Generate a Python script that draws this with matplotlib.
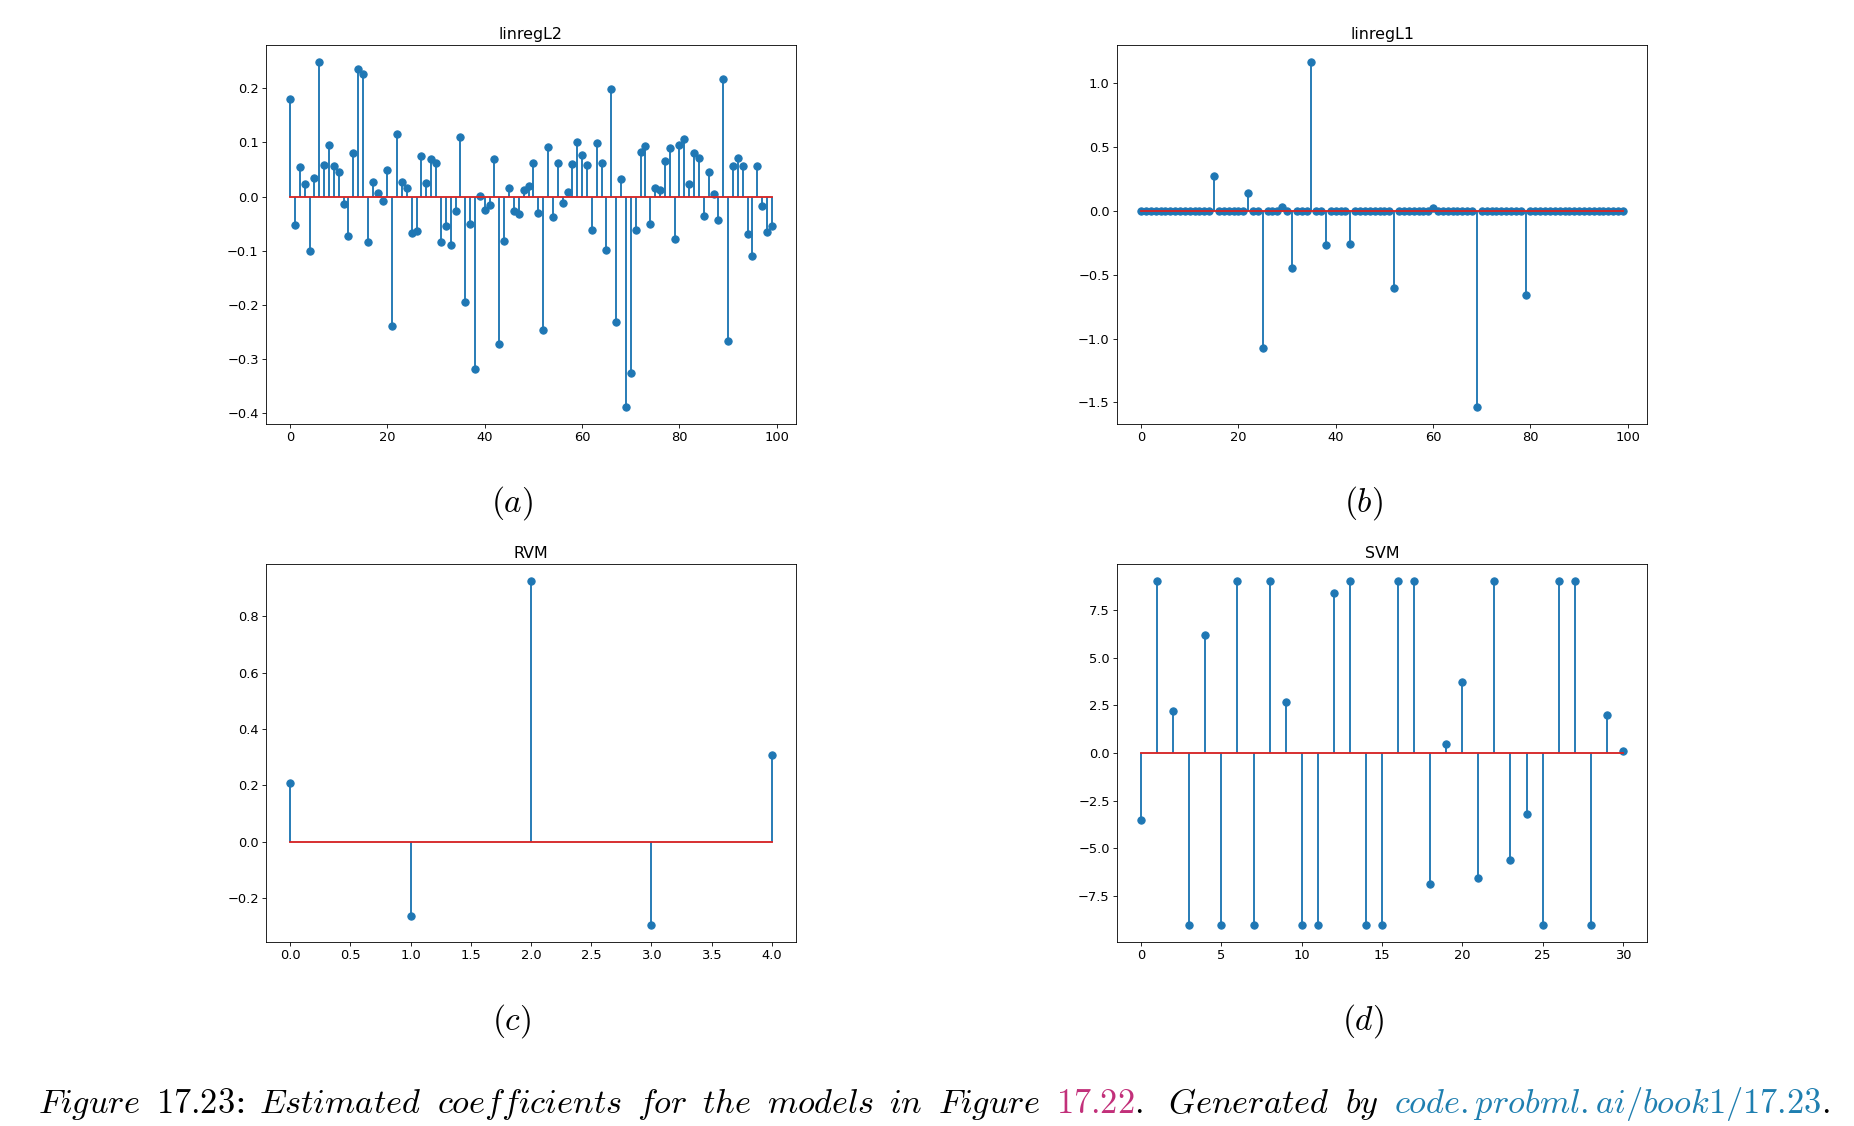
import numpy as np
import matplotlib
matplotlib.use("Agg")
import matplotlib.pyplot as plt
from matplotlib.offsetbox import TextArea, HPacker, AnchoredOffsetbox

plt.rcParams["mathtext.fontset"] = "cm"
plt.rcParams["xtick.labelsize"] = 12.5
plt.rcParams["ytick.labelsize"] = 12.5
plt.rcParams["axes.titlesize"] = 15.3
plt.rcParams["lines.markersize"] = 7
plt.rcParams["lines.linewidth"] = 1.8

# coefficients
linregL2 = np.array([
    0.180, -0.052, 0.054, 0.023, -0.101, 0.035, 0.248, 0.058, 0.095, 0.056,
    0.046, -0.013, -0.072, 0.080, 0.236, 0.227, -0.084, 0.027, 0.006, -0.009,
    0.049, -0.238, 0.115, 0.027, 0.015, -0.068, -0.064, 0.074, 0.025, 0.069,
    0.062, -0.083, -0.055, -0.090, -0.027, 0.110, -0.194, -0.051, -0.318, 0.001,
    -0.025, -0.016, 0.070, -0.272, -0.082, 0.015, -0.027, -0.032, 0.013, 0.020,
    0.062, -0.031, -0.246, 0.091, -0.038, 0.062, -0.011, 0.008, 0.060, 0.101,
    0.077, 0.059, -0.061, 0.098, 0.062, -0.098, 0.198, -0.231, 0.032, -0.388,
    -0.325, -0.062, 0.083, 0.093, -0.051, 0.016, 0.013, 0.066, 0.089, -0.078,
    0.095, 0.106, 0.023, 0.081, 0.072, -0.036, 0.046, 0.004, -0.043, 0.217,
    -0.267, 0.056, 0.071, 0.056, -0.069, -0.109, 0.056, -0.017, -0.065, -0.055,
])

# lasso: mostly zeros, only a few non-zero entries
linregL1 = np.zeros(100)
l1_idx = [15, 22, 25, 29, 31, 35, 38, 43, 52, 60, 69, 79]
l1_val = [0.275, 0.141, -1.073, 0.026, -0.445, 1.162, -0.270, -0.262,
          -0.605, 0.018, -1.534, -0.662]
linregL1[l1_idx] = l1_val

rvm = np.array([0.207, -0.264, 0.925, -0.296, 0.309])

svm = np.array([
    -3.50, 9.0, 2.20, -9.0, 6.17, -9.0, 9.0, -9.0, 9.0, 2.65,
    -9.0, -9.0, 8.40, 9.0, -9.0, -9.0, 9.0, 9.0, -6.85, 0.47,
    3.71, -6.53, 9.0, -5.61, -3.19, -9.0, 9.0, 9.0, -9.0, 2.00,
    0.12,
])

titles = ["linregL2", "linregL1", "RVM", "SVM"]
series = [linregL2, linregL1, rvm, svm]
sublabels = ["a", "b", "c", "d"]

W, H = 1854, 1126
fig = plt.figure(figsize=(W / 75, H / 75), dpi=75)

# axes boxes in pixels: left, top, right, bottom
boxes = [(266, 45, 796, 424), (1117, 45, 1647, 424),
         (266, 564, 796, 942), (1117, 564, 1647, 942)]
label_pos = [(512, 512), (1363, 512), (512, 1030), (1363, 1030)]

for box, y, title, lab, (lx, ly) in zip(boxes, series, titles, sublabels, label_pos):
    l, t, r, b = box
    ax = fig.add_axes([l / W, 1 - b / H, (r - l) / W, (b - t) / H])
    ax.stem(np.arange(len(y)), y)
    ax.set_title(title)
    fig.text(lx / W, 1 - ly / H, r"$(\mathit{%s})$" % lab, fontsize=32,
             ha="center", va="baseline")

# caption, pieced together so the references can have their own colours
fs = 33
magenta = "#c2307a"
teal = "#1f7fb0"
words = [
    (r"$\mathit{Figure}$", "black"), (r"$\mathit{17.23}$:", "black"),
    (r"$\mathit{Estimated}$", "black"), (r"$\mathit{coefficients}$", "black"),
    (r"$\mathit{for}$", "black"), (r"$\mathit{the}$", "black"),
    (r"$\mathit{models}$", "black"), (r"$\mathit{in}$", "black"),
    (r"$\mathit{Figure}$", "black"), (r"$\mathit{17.22}$", magenta),
    (r"$.$", "black"), (r"$\mathit{Generated}$", "black"),
    (r"$\mathit{by}$", "black"),
    (r"$\mathit{code.probml.ai/book1/17.23}$", teal), (r"$.$", "black"),
]
# space drawn after each word (em multiples of a DejaVu Serif space)
gaps = [1.4, 1.4, 1.4, 1.4, 1.4, 1.4, 1.4, 1.4, 1.4, 0, 2.3, 1.4, 1.4, 0, 0]

areas = []
for (s, c), g in zip(words, gaps):
    areas.append(TextArea(s, textprops=dict(color=c, fontsize=fs, family="DejaVu Serif")))
    if g:
        areas.append(TextArea(" ", textprops=dict(fontsize=fs * g, family="DejaVu Serif")))
pack = HPacker(children=areas, align="baseline", pad=0, sep=0)
cap = AnchoredOffsetbox(loc="lower left", child=pack, pad=0, borderpad=0,
                        frameon=False, bbox_to_anchor=(38 / W, 1 - 1129 / H),
                        bbox_transform=fig.transFigure)
fig.add_artist(cap)

fig.savefig("out.png", dpi=75)
